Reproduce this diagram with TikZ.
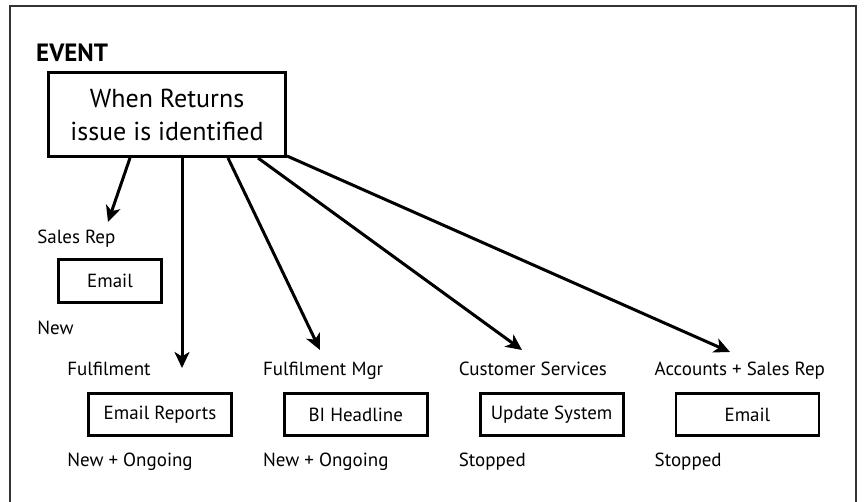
\documentclass[tikz,border=0pt]{standalone}
\usepackage{fontspec}
\setmainfont{PT Sans}
\usetikzlibrary{positioning,arrows.meta}

\begin{document}
\begin{tikzpicture}[x=1pt, y=1pt,
	box/.style={draw, line width=2.8pt, minimum width=143pt, minimum height=42pt, inner sep=0pt, font=\fontsize{19}{22}\selectfont},
	txt/.style={inner sep=0pt, font=\fontsize{19}{22}\selectfont},
	link/.style={line width=3pt, -{Stealth[length=16pt, width=15pt, inset=4.5pt]}}]
	
	\useasboundingbox (0,0) rectangle (864,502);
	\draw[line width=1.2pt, black!80] (10,0) |- (856,496) -- (856,0);
	
	\node[draw, line width=3pt, minimum width=237pt, minimum height=84pt, align=center, font=\fontsize{26}{33}\selectfont](issue) at (167,387.5){When Returns\\issue is identified};
	\node[txt, above = 9pt of issue.north west, anchor=base west, xshift=-11pt, font=\fontsize{25}{28}\selectfont\bfseries](event){EVENT};
	
	\node[box, minimum width=103pt, minimum height=43pt](email_sr) at (110,221){Email};
	\node[box](email_rep) at (160,87.5){Email Reports};
	\node[box, right = 50pt of email_rep](bi_head){BI Headline};
	\node[box, right = 50pt of bi_head](upd_sys){Update System};
	\node[box, right = 50pt of upd_sys](email_acc){Email};
	
	\node[txt, above = 15pt of email_sr.north west, anchor=base west, xshift=-20pt](sales_rep){Sales Rep};
	\node[txt, above = 17pt of email_rep.north west, anchor=base west, xshift=-20pt](fulfil){Fulfilment};
	\node[txt, above = 17pt of bi_head.north west, anchor=base west, xshift=-20pt](fulfil_mgr){Fulfilment Mgr};
	\node[txt, above = 17pt of upd_sys.north west, anchor=base west, xshift=-20pt](cust_serv){Customer Services};
	\node[txt, above = 17pt of email_acc.north west, anchor=base west, xshift=-20pt](acc_sr){Accounts + Sales Rep};
	
	\node[txt, below = 31pt of email_sr.south west, anchor=base west, xshift=-20pt](new_sr){New};
	\node[txt, below = 30pt of email_rep.south west, anchor=base west, xshift=-20pt](new_rep){New + Ongoing};
	\node[txt, below = 30pt of bi_head.south west, anchor=base west, xshift=-20pt](new_bi){New + Ongoing};
	\node[txt, below = 30pt of upd_sys.south west, anchor=base west, xshift=-20pt](stop_sys){Stopped};
	\node[txt, below = 30pt of email_acc.south west, anchor=base west, xshift=-20pt](stop_acc){Stopped};
	
	\coordinate (to_sr) at (108,280);
	\coordinate (to_rep) at (182,134);
	\coordinate (to_bi) at (320,152);
	\coordinate (to_sys) at (522,152);
	\coordinate (to_acc) at (730,150);
	
	\draw[link] (issue.south west) ++(83,0) -- (to_sr);
	\draw[link] (issue.south west) ++(135,0) -- (to_rep);
	\draw[link] (issue.south west) ++(181,0) -- (to_bi);
	\draw[link] (issue.south west) ++(211,0) -- (to_sys);
	\draw[link] (issue.south east) ++(0,2) -- (to_acc);
	
\end{tikzpicture}
\end{document}
